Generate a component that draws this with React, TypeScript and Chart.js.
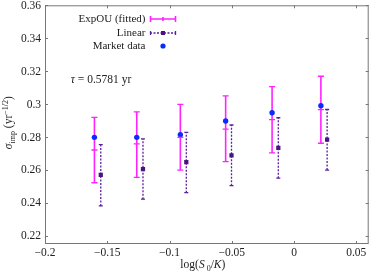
import React, { useEffect, useRef } from "react";
import { Chart, registerables } from "chart.js";

Chart.register(...registerables);

const xTicks = [-0.2, -0.15, -0.1, -0.05, 0, 0.05];
const yTicks = [0.22, 0.24, 0.26, 0.28, 0.3, 0.32, 0.34, 0.36];

const xMarket = [-0.1603, -0.1263, -0.0913, -0.0549, -0.0176, 0.0216];
const market = [0.2798, 0.2798, 0.2814, 0.2897, 0.2947, 0.299];

const expouMid = [0.2721, 0.2758, 0.2798, 0.2848, 0.2905, 0.2966];
const expouLow = [0.2522, 0.2555, 0.2599, 0.2651, 0.2703, 0.2762];
const expouHigh = [0.2919, 0.2953, 0.2998, 0.305, 0.3106, 0.3169];

const xLinear = [-0.1552, -0.1213, -0.0865, -0.0502, -0.0126, 0.0266];
const linear = [0.257, 0.2605, 0.2647, 0.2688, 0.2734, 0.2784];
const linearLow = [0.2381, 0.2422, 0.2462, 0.2504, 0.255, 0.2599];
const linearHigh = [0.2754, 0.2788, 0.2828, 0.2873, 0.2917, 0.2967];

const legendLabels = ["ExpOU (fitted)", "Linear", "Market data"];

const MAGENTA = "#ff22ff";
const PURPLE = "#5a1f9a";
const SQUARE = "#4b1282";
const BLUE = "#0a2bff";
const AXIS = "#777777";
const TEXT = "#222222";
const FONT = "'Liberation Serif', 'Times New Roman', serif";

type Seg = { t: string; size: number; italic?: boolean; dy?: number };

function richWidth(ctx: CanvasRenderingContext2D, segs: Seg[]) {
  let w = 0;
  for (const s of segs) {
    ctx.font = `${s.italic ? "italic " : ""}${s.size}px ${FONT}`;
    w += ctx.measureText(s.t).width;
  }
  return w;
}

function drawRich(ctx: CanvasRenderingContext2D, segs: Seg[], cx: number, cy: number) {
  const w = richWidth(ctx, segs);
  let x = cx - w / 2;
  ctx.textBaseline = "alphabetic";
  ctx.textAlign = "left";
  for (const s of segs) {
    ctx.font = `${s.italic ? "italic " : ""}${s.size}px ${FONT}`;
    ctx.fillText(s.t, x, cy + (s.dy || 0));
    x += ctx.measureText(s.t).width;
  }
}

const errorBars = [
  { ds: 0, low: expouLow, high: expouHigh, color: MAGENTA, dash: [] as number[], cap: 3, width: 1.6 },
  { ds: 1, low: linearLow, high: linearHigh, color: PURPLE, dash: [2, 1.5], cap: 2, width: 1.3 },
];

function fmt(v: number) {
  const s = String(Math.round(v * 1000) / 1000);
  return s.replace("-", "−");
}

const customPlugin = {
  id: "custom",
  beforeDatasetsDraw(chart: any) {
    const ctx = chart.ctx as CanvasRenderingContext2D;
    const xs = chart.scales.x;
    const ys = chart.scales.y;
    ctx.save();
    for (const eb of errorBars) {
      const data = chart.data.datasets[eb.ds].data as { x: number; y: number }[];
      ctx.strokeStyle = eb.color;
      ctx.lineWidth = eb.width;
      data.forEach((p, i) => {
        const x = xs.getPixelForValue(p.x);
        const yl = ys.getPixelForValue(eb.low[i]);
        const yh = ys.getPixelForValue(eb.high[i]);
        ctx.setLineDash(eb.dash);
        ctx.beginPath();
        ctx.moveTo(x, yl);
        ctx.lineTo(x, yh);
        ctx.stroke();
        ctx.setLineDash([]);
        ctx.lineWidth = 1.3;
        ctx.beginPath();
        ctx.moveTo(x - eb.cap, yl);
        ctx.lineTo(x + eb.cap, yl);
        ctx.moveTo(x - eb.cap, yh);
        ctx.lineTo(x + eb.cap, yh);
        ctx.stroke();
        ctx.lineWidth = eb.width;
      });
    }
    ctx.restore();
  },
  afterDraw(chart: any) {
    const ctx = chart.ctx as CanvasRenderingContext2D;
    const a = chart.chartArea;
    const xs = chart.scales.x;
    const ys = chart.scales.y;
    ctx.save();
    // frame
    ctx.strokeStyle = AXIS;
    ctx.lineWidth = 1;
    ctx.strokeRect(a.left + 0.5, a.top + 0.5, a.right - a.left - 1, a.bottom - a.top - 1);
    // inward ticks
    ctx.beginPath();
    for (const v of xTicks) {
      const x = Math.round(xs.getPixelForValue(v)) + 0.5;
      ctx.moveTo(x, a.bottom);
      ctx.lineTo(x, a.bottom - 3);
      ctx.moveTo(x, a.top);
      ctx.lineTo(x, a.top + 3);
    }
    for (const v of yTicks) {
      const y = Math.round(ys.getPixelForValue(v)) + 0.5;
      ctx.moveTo(a.left, y);
      ctx.lineTo(a.left + 3, y);
      ctx.moveTo(a.right, y);
      ctx.lineTo(a.right - 3, y);
    }
    ctx.stroke();

    // tick labels
    ctx.fillStyle = TEXT;
    ctx.font = `11.5px ${FONT}`;
    ctx.textBaseline = "middle";
    ctx.textAlign = "right";
    for (const v of yTicks) ctx.fillText(fmt(v), a.left - 4, ys.getPixelForValue(v) + 0.5);
    ctx.textAlign = "center";
    for (const v of xTicks) ctx.fillText(fmt(v), xs.getPixelForValue(v), a.bottom + 8.5);

    // legend
    const textRight = 145.5;
    const sx0 = 150;
    const sx1 = 176;
    const sxm = (sx0 + sx1) / 2;
    const rows = [19, 33, 46];
    ctx.fillStyle = TEXT;
    ctx.font = `11px ${FONT}`;
    ctx.textAlign = "right";
    ctx.textBaseline = "middle";
    legendLabels.forEach((l, i) => ctx.fillText(l, textRight, rows[i] + 0.5));
    // ExpOU sample
    let y = rows[0];
    ctx.strokeStyle = MAGENTA;
    ctx.lineWidth = 1.6;
    ctx.beginPath();
    ctx.moveTo(sx0, y);
    ctx.lineTo(sx1, y);
    ctx.moveTo(sx0 + 0.5, y - 3);
    ctx.lineTo(sx0 + 0.5, y + 3);
    ctx.moveTo(sx1 - 0.5, y - 3);
    ctx.lineTo(sx1 - 0.5, y + 3);
    ctx.moveTo(sxm, y - 2);
    ctx.lineTo(sxm, y + 2);
    ctx.stroke();
    // Linear sample
    y = rows[1];
    ctx.strokeStyle = PURPLE;
    ctx.lineWidth = 1.3;
    ctx.setLineDash([2, 1.5]);
    ctx.beginPath();
    ctx.moveTo(sx0, y);
    ctx.lineTo(sx1, y);
    ctx.stroke();
    ctx.setLineDash([]);
    ctx.beginPath();
    ctx.moveTo(sx0 + 0.5, y - 2);
    ctx.lineTo(sx0 + 0.5, y + 2);
    ctx.moveTo(sx1 - 0.5, y - 2);
    ctx.lineTo(sx1 - 0.5, y + 2);
    ctx.stroke();
    ctx.fillStyle = SQUARE;
    ctx.fillRect(sxm - 2, y - 2, 4, 4);
    // Market sample
    y = rows[2];
    ctx.fillStyle = BLUE;
    ctx.beginPath();
    ctx.arc(sxm, y, 2.6, 0, Math.PI * 2);
    ctx.fill();

    // tau annotation
    ctx.fillStyle = TEXT;
    drawRich(ctx, [
      { t: "τ", size: 11.5, italic: true },
      { t: " = 0.5781 yr", size: 11.5 },
    ], 101, 83);

    // x title
    drawRich(ctx, [
      { t: "log(", size: 11.5 },
      { t: "S", size: 11.5, italic: true },
      { t: " 0", size: 8, dy: 2.5 },
      { t: "/", size: 11.5 },
      { t: "K", size: 11.5, italic: true },
      { t: ")", size: 11.5 },
    ], (a.left + a.right) / 2 - 4, 268);

    // y title
    ctx.save();
    ctx.translate(12, (a.top + a.bottom) / 2 - 2);
    ctx.rotate(-Math.PI / 2);
    drawRich(ctx, [
      { t: "σ", size: 11.5, italic: true },
      { t: "imp", size: 8, dy: 2.5 },
      { t: " (yr", size: 11.5 },
      { t: "−1/2", size: 8, dy: -4.5 },
      { t: ")", size: 11.5 },
    ], 0, 0);
    ctx.restore();

    ctx.restore();
  },
};

export default function App() {
  const ref = useRef<HTMLCanvasElement | null>(null);
  useEffect(() => {
    if (!ref.current) return;
    const chart = new Chart(ref.current, {
      type: "scatter",
      data: {
        datasets: [
          {
            label: legendLabels[0],
            data: xMarket.map((x, i) => ({ x, y: expouMid[i] })),
            pointStyle: "line",
            pointRadius: 3,
            borderColor: MAGENTA,
            backgroundColor: MAGENTA,
            borderWidth: 1.3,
          },
          {
            label: legendLabels[1],
            data: xLinear.map((x, i) => ({ x, y: linear[i] })),
            pointStyle: "rect",
            pointRadius: 3,
            borderWidth: 0,
            borderColor: SQUARE,
            backgroundColor: SQUARE,
          },
          {
            label: legendLabels[2],
            data: xMarket.map((x, i) => ({ x, y: market[i] })),
            pointStyle: "circle",
            pointRadius: 2.7,
            borderWidth: 0,
            backgroundColor: BLUE,
            borderColor: BLUE,
          },
        ],
      },
      options: {
        animation: false,
        responsive: false,
        maintainAspectRatio: false,
        layout: { padding: { top: 4, right: 1, left: 0, bottom: 0 } },
        plugins: { legend: { display: false }, tooltip: { enabled: false } },
        scales: {
          x: {
            type: "linear",
            min: -0.2,
            max: 0.06,
            grid: { display: false },
            border: { display: false },
            ticks: { display: false },
            afterFit: (s: any) => {
              s.height = 28;
            },
          },
          y: {
            type: "linear",
            min: 0.215,
            max: 0.36,
            grid: { display: false },
            border: { display: false },
            ticks: { display: false },
            afterFit: (s: any) => {
              s.width = 45;
            },
          },
        },
      },
      plugins: [customPlugin],
    } as any);
    return () => chart.destroy();
  }, []);
  return (
    <div style={{ position: "absolute", left: 0, top: 0, width: 374, height: 272 }}>
      <canvas ref={ref} width={374} height={272} style={{ width: 374, height: 272 }} />
    </div>
  );
}
